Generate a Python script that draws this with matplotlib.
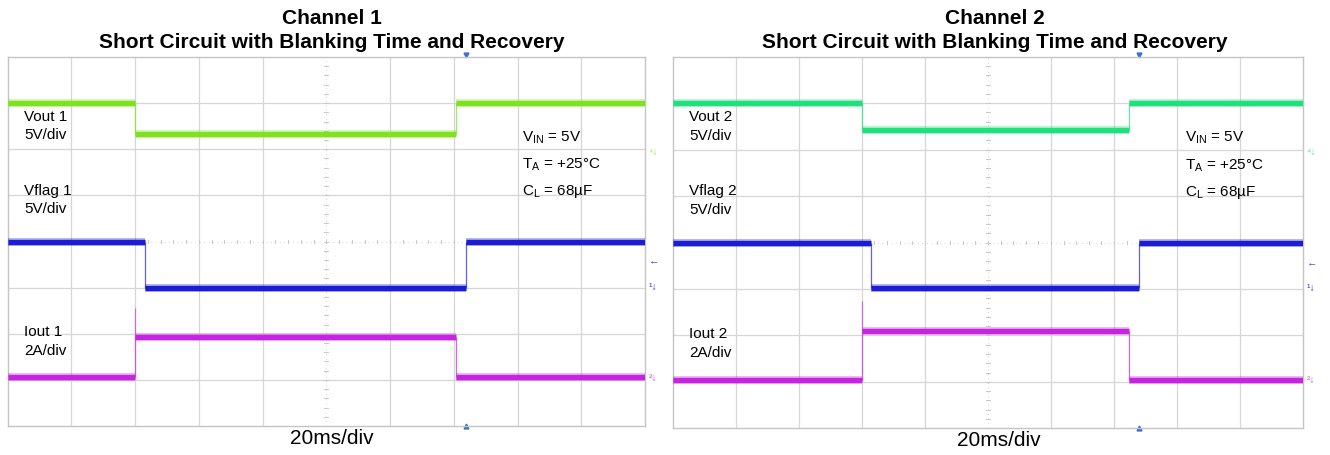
import matplotlib
matplotlib.use("Agg")
import matplotlib.pyplot as plt

plt.rcParams['font.family'] = ['Liberation Sans', 'DejaVu Sans']

# scope traces, in divisions (x: 0..10 div of 20ms, y: 0..8 div)
# each trace = edges in time + flat levels between them
ch1_vout_t = [0, 2.0, 7.04, 10]
ch1_vout_v = [7.0, 6.33, 7.0]
ch1_flag_t = [0, 2.15, 7.19, 10]
ch1_flag_v = [4.0, 3.0, 4.0]
ch1_iout_t = [0, 2.0, 7.04, 10]
ch1_iout_v = [1.06, 1.94, 1.06]
ch1_iout_spike = 2.56

ch2_vout_t = [0, 3.0, 7.24, 10]
ch2_vout_v = [7.0, 6.42, 7.0]
ch2_flag_t = [0, 3.15, 7.39, 10]
ch2_flag_v = [4.0, 3.02, 4.0]
ch2_iout_t = [0, 3.0, 7.24, 10]
ch2_iout_v = [1.05, 2.10, 1.05]
ch2_iout_spike = 2.75

trig_pos = [7.19, 7.39]

green1 = '#7ee21e'
green2 = '#1fe07c'
blue = '#1c1cd4'
magenta = '#c624e0'


def draw_trace(ax, t, v, color, spike=None):
    # soft halo + solid core, looks like the fuzzy scope band
    ax.hlines(v, t[:-1], t[1:], colors=color, lw=5.6, alpha=0.35, capstyle='butt', zorder=3)
    ax.hlines(v, t[:-1], t[1:], colors=color, lw=3.8, capstyle='butt', zorder=3)
    for i in range(1, len(v)):
        lo, hi = sorted([v[i - 1], v[i]])
        ax.vlines(t[i], lo, hi, colors=color, lw=0.9, alpha=0.7, zorder=3)
    if spike is not None:
        ax.vlines(t[1], v[1], spike, colors=color, lw=0.9, alpha=0.6, zorder=3)


def scope_axes(ax, trig):
    ax.set_xlim(0, 10)
    ax.set_ylim(0, 8)
    ax.set_xticks([1, 2, 3, 4, 6, 7, 8, 9])
    ax.set_yticks([1, 2, 3, 5, 6, 7])
    ax.tick_params(length=0, labelbottom=False, labelleft=False)
    ax.grid(color='#d6d6d6', lw=0.9)
    for s in ax.spines.values():
        s.set_color('#c4c4c4')
        s.set_linewidth(1.0)
    # dotted centre cross with small graticule ticks
    ax.axvline(5, color='#dcdcdc', lw=0.8, ls=(0, (1, 3)))
    ax.axhline(4, color='#dcdcdc', lw=0.8, ls=(0, (1, 3)))
    for k in range(1, 40):
        y = k * 0.2
        ax.plot([4.97, 5.03], [y, y], color='#c8c8c8', lw=0.7)
    for k in range(1, 50):
        x = k * 0.2
        ax.plot([x, x], [3.96, 4.04], color='#c8c8c8', lw=0.7)
    ax.plot(trig, 8.04, marker='v', ms=3.5, color='#3b6fd2', clip_on=False)
    ax.plot(trig, 0.0, marker='^', ms=3.5, color='#3b6fd2', clip_on=False)


def labels(ax, n, ann_x):
    kw = dict(fontsize=11, va='center', ha='left')
    ax.text(0.26, 6.7, f'Vout {n}', **kw)
    ax.text(0.26, 6.3, '5V/div', **kw)
    ax.text(0.26, 5.1, f'Vflag {n}', **kw)
    ax.text(0.26, 4.7, '5V/div', **kw)
    ax.text(0.26, 2.03, f'Iout {n}', **kw)
    ax.text(0.26, 1.62, '2A/div', **kw)
    ax.text(ann_x, 6.26, r'V$_{\mathregular{IN}}$ = 5V', **kw)
    ax.text(ann_x, 5.66, r'T$_{\mathregular{A}}$ = +25°C', **kw)
    ax.text(ann_x, 5.08, r'C$_{\mathregular{L}}$ = 68µF', **kw)


def side_marks(ax, gcol):
    kw = dict(fontsize=7.5, va='center', ha='left', clip_on=False)
    ax.text(10.06, 5.95, '⁴↓', color=gcol, alpha=0.8, **kw)
    ax.text(10.06, 3.56, '←', color=blue, alpha=0.9, **kw)
    ax.text(10.06, 3.02, '¹↓', color=blue, alpha=0.9, **kw)
    ax.text(10.06, 1.04, '²↓', color=magenta, alpha=0.8, **kw)


fig = plt.figure(figsize=(13.3, 4.55), dpi=100)

ax1 = fig.add_axes([7.6 / 1330, 29 / 455, 637.4 / 1330, 369 / 455])
ax2 = fig.add_axes([672.8 / 1330, 26.7 / 455, 630.2 / 1330, 371.6 / 455])

scope_axes(ax1, trig_pos[0])
scope_axes(ax2, trig_pos[1])

draw_trace(ax1, ch1_vout_t, ch1_vout_v, green1)
draw_trace(ax1, ch1_flag_t, ch1_flag_v, blue)
draw_trace(ax1, ch1_iout_t, ch1_iout_v, magenta, ch1_iout_spike)

draw_trace(ax2, ch2_vout_t, ch2_vout_v, green2)
draw_trace(ax2, ch2_flag_t, ch2_flag_v, blue)
draw_trace(ax2, ch2_iout_t, ch2_iout_v, magenta, ch2_iout_spike)

labels(ax1, 1, 8.07)
labels(ax2, 2, 8.12)
side_marks(ax1, green1)
side_marks(ax2, green2)

for cx, n in [(332, 1), (995, 2)]:
    fig.text(cx / 1330, 1 - 18 / 455, f'Channel {n}', ha='center', va='center',
             fontsize=15, fontweight='bold')
    fig.text(cx / 1330, 1 - 42 / 455, 'Short Circuit with Blanking Time and Recovery',
             ha='center', va='center', fontsize=15, fontweight='bold')

fig.text(332 / 1330, 1 - 438 / 455, '20ms/div', ha='center', va='center', fontsize=15)
fig.text(999 / 1330, 1 - 441 / 455, '20ms/div', ha='center', va='center', fontsize=15)

fig.savefig('out.png', dpi=100)
